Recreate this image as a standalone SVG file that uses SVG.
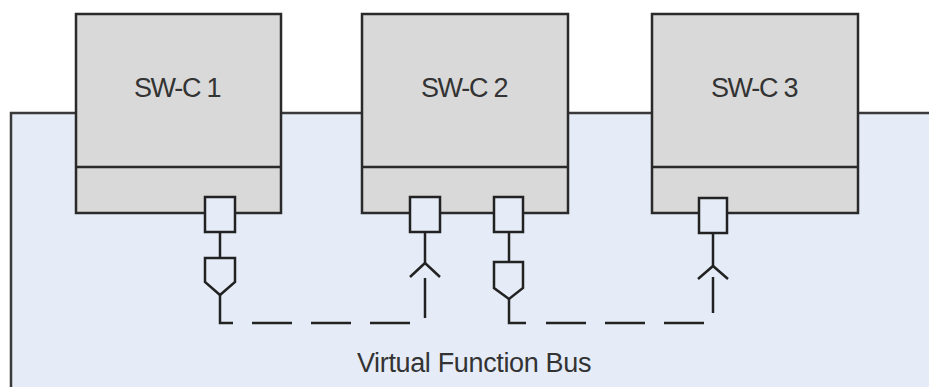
<svg xmlns="http://www.w3.org/2000/svg" width="929" height="387" viewBox="0 0 929 387">
<style>
.bus{fill:#e5ecf7;stroke:#3a3a3a;stroke-width:2.5}
.box{fill:#d9d9d9;stroke:#2a2a2a;stroke-width:2.5}
.div{stroke:#2a2a2a;stroke-width:2.5}
.port{fill:#e5ecf7;stroke:#222;stroke-width:2.5}
.ln{fill:none;stroke:#222;stroke-width:2.5}
.dash{fill:none;stroke:#222;stroke-width:2.5;stroke-dasharray:40 19}
.lbl{font-family:"Liberation Sans",Arial,sans-serif;font-size:27px;fill:#333;text-anchor:middle}
</style>
<g id="bus">
<rect class="bus" x="11" y="113" width="940" height="300"/>
<text class="lbl" x="474" y="372" letter-spacing="-0.35">Virtual Function Bus</text>
</g>
<g id="swc1">
<rect class="box" x="76" y="14" width="205" height="199"/>
<line class="div" x1="76" y1="167" x2="281" y2="167"/>
<text class="lbl" x="177" y="97" letter-spacing="-1.3">SW-C 1</text>
</g>
<g id="swc2">
<rect class="box" x="362" y="14" width="206" height="199"/>
<line class="div" x1="362" y1="167" x2="568" y2="167"/>
<text class="lbl" x="464" y="97" letter-spacing="-1.3">SW-C 2</text>
</g>
<g id="swc3">
<rect class="box" x="652" y="14" width="206" height="199"/>
<line class="div" x1="652" y1="167" x2="858" y2="167"/>
<text class="lbl" x="754" y="97" letter-spacing="-1.3">SW-C 3</text>
</g>
<g id="ports">
<rect class="port" x="205" y="197" width="30" height="35"/>
<rect class="port" x="410" y="197" width="30" height="35"/>
<rect class="port" x="494" y="197" width="29" height="35"/>
<rect class="port" x="699" y="198" width="28" height="35"/>
</g>
<g id="connectors">
<!-- provided port 1 -->
<line class="ln" x1="220" y1="232" x2="220" y2="258"/>
<path class="ln" d="M205,258 H235 V282 L220,295 L205,282 Z"/>
<path class="ln" d="M220,295 V323 H233"/>
<path class="dash" d="M252,323 H412"/>
<line class="ln" x1="425" y1="318" x2="425" y2="278"/>
<line class="ln" x1="425" y1="232" x2="425" y2="263"/>
<path class="ln" d="M410,277 L425,263 L440,277"/>
<!-- provided port 2 -->
<line class="ln" x1="509" y1="232" x2="509" y2="262"/>
<path class="ln" d="M494,262 H523 V288 L509,299 L494,288 Z"/>
<path class="ln" d="M509,299 V323 H526"/>
<path class="dash" d="M546,323 H704"/>
<line class="ln" x1="713" y1="313" x2="713" y2="277"/>
<line class="ln" x1="713" y1="233" x2="713" y2="266"/>
<path class="ln" d="M698,279 L713,266 L728,279"/>
</g>
</svg>
